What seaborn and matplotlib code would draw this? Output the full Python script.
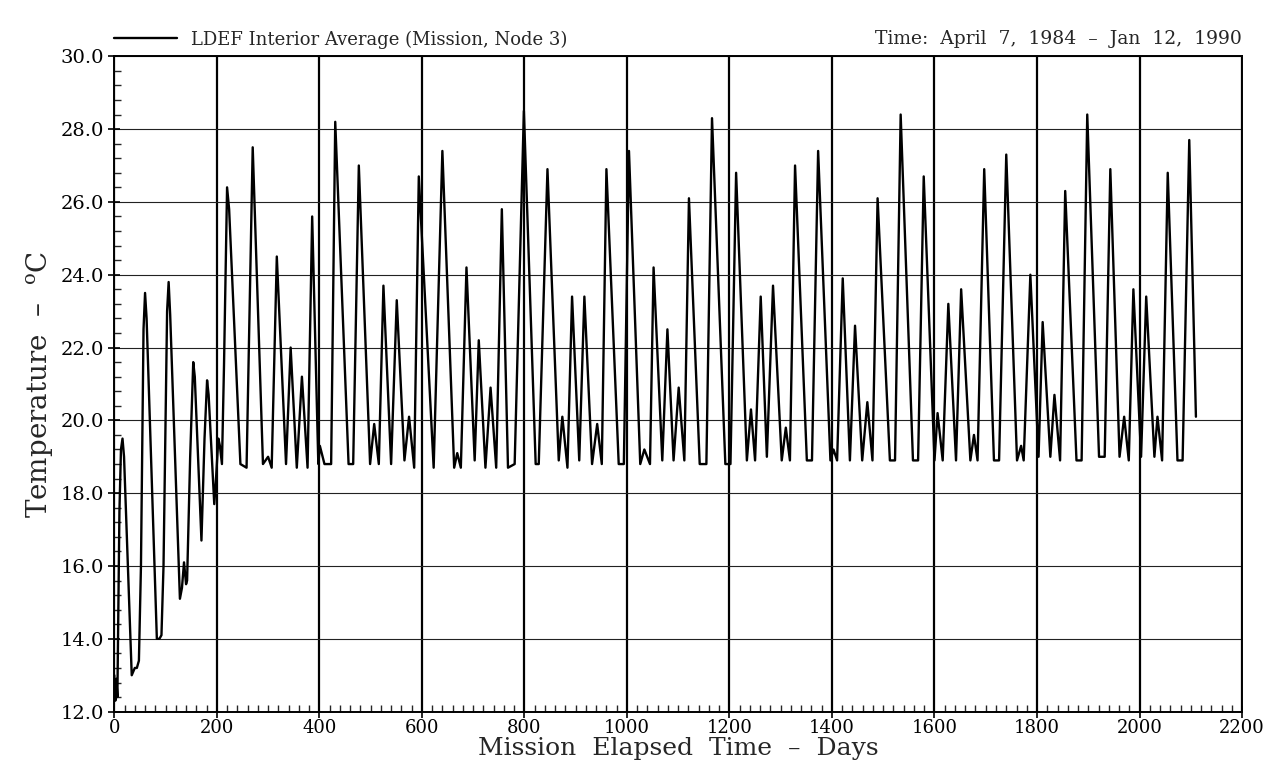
import numpy as np
import pandas as pd
import matplotlib
matplotlib.use("Agg")
import matplotlib.pyplot as plt
from matplotlib.ticker import MultipleLocator
import seaborn as sns

# Values (day, interior average temperature in C)
days = [0, 2, 4, 6, 10, 13, 16, 19, 34, 40, 44, 48, 52, 57, 60, 63, 83, 88, 92, 96,
        103, 106, 109, 128, 132, 136, 140, 142, 148, 154, 157, 170, 176, 181, 184, 195,
        198, 203, 206, 210, 214, 220, 224, 246, 258, 270, 290, 300, 307, 317, 335, 344,
        356, 366, 377, 386, 398, 401, 410, 423, 431, 457, 466, 477, 499, 507, 516, 525,
        540, 551, 566, 575, 585, 594, 623, 640, 663, 669, 676, 687, 703, 711, 724, 734,
        745, 756, 768, 781, 799, 822, 828, 845, 867, 874, 884, 893, 907, 917, 932, 942,
        951, 960, 984, 994, 1004, 1026, 1034, 1045, 1052, 1069, 1079, 1091, 1101, 1112,
        1121, 1142, 1155, 1166, 1192, 1202, 1213, 1234, 1242, 1250, 1261, 1273, 1285,
        1302, 1310, 1318, 1328, 1351, 1361, 1373, 1397, 1403, 1410, 1421, 1435, 1445,
        1459, 1469, 1479, 1489, 1513, 1523, 1534, 1558, 1568, 1579, 1600, 1606, 1616,
        1627, 1642, 1652, 1670, 1677, 1684, 1697, 1716, 1726, 1740, 1761, 1769, 1774,
        1787, 1803, 1811, 1826, 1834, 1845, 1855, 1877, 1887, 1898, 1921, 1932, 1943,
        1961, 1970, 1979, 1988, 2003, 2013, 2029, 2035, 2044, 2055, 2074, 2084, 2097,
        2110]
temps = [13.0, 12.3, 12.9, 12.4, 17.5, 19.2, 19.5, 19.0, 13.0, 13.2, 13.2, 13.4, 16.0,
         22.5, 23.5, 22.8, 14.0, 14.0, 14.1, 16.0, 23.0, 23.8, 22.9, 15.1, 15.4, 16.1,
         15.5, 15.6, 19.0, 21.6, 21.2, 16.7, 19.5, 21.1, 20.7, 17.7, 18.3, 19.5, 19.3,
         18.8, 21.5, 26.4, 25.8, 18.8, 18.7, 27.5, 18.8, 19.0, 18.7, 24.5, 18.8, 22.0,
         18.7, 21.2, 18.7, 25.6, 18.8, 19.3, 18.8, 18.8, 28.2, 18.8, 18.8, 27.0, 18.8,
         19.9, 18.8, 23.7, 18.8, 23.3, 18.9, 20.1, 18.7, 26.7, 18.7, 27.4, 18.7, 19.1,
         18.7, 24.2, 18.9, 22.2, 18.7, 20.9, 18.7, 25.8, 18.7, 18.8, 28.5, 18.8, 18.8,
         26.9, 18.9, 20.1, 18.7, 23.4, 18.9, 23.4, 18.8, 19.9, 18.8, 26.9, 18.8, 18.8,
         27.4, 18.8, 19.2, 18.8, 24.2, 18.9, 22.5, 18.9, 20.9, 18.9, 26.1, 18.8, 18.8,
         28.3, 18.8, 18.8, 26.8, 18.9, 20.3, 18.9, 23.4, 19.0, 23.7, 18.9, 19.8, 18.9,
         27.0, 18.9, 18.9, 27.4, 18.9, 19.2, 18.9, 23.9, 18.9, 22.6, 18.9, 20.5, 18.9,
         26.1, 18.9, 18.9, 28.4, 18.9, 18.9, 26.7, 18.9, 20.2, 18.9, 23.2, 18.9, 23.6,
         18.9, 19.6, 18.9, 26.9, 18.9, 18.9, 27.3, 18.9, 19.3, 18.9, 24.0, 19.0, 22.7,
         19.0, 20.7, 18.9, 26.3, 18.9, 18.9, 28.4, 19.0, 19.0, 26.9, 19.0, 20.1, 18.9,
         23.6, 19.0, 23.4, 19.0, 20.1, 18.9, 26.8, 18.9, 18.9, 27.7, 20.1]

df = pd.DataFrame({"day": days, "temp": temps})

sns.set_style("ticks")
plt.rcParams["font.family"] = ["DejaVu Serif"]
plt.rcParams["mathtext.fontset"] = "dejavuserif"

fig = plt.figure(figsize=(12.7, 7.71), dpi=100)
ax = fig.add_axes([0.090, 0.077, 0.888, 0.850])

sns.lineplot(data=df, x="day", y="temp", estimator=None, sort=False,
             color="black", linewidth=1.7, ax=ax,
             label="LDEF Interior Average (Mission, Node 3)")

ax.set_xlim(0, 2200)
ax.set_ylim(12, 30)
ax.xaxis.set_major_locator(MultipleLocator(200))
ax.xaxis.set_minor_locator(MultipleLocator(20))
ax.yaxis.set_major_locator(MultipleLocator(2))
ax.yaxis.set_minor_locator(MultipleLocator(0.4))
ax.yaxis.set_major_formatter(matplotlib.ticker.FormatStrFormatter("%.1f"))

# vertical grid is heavy in the scan, horizontal one thinner
ax.grid(axis="x", which="major", color="black", linewidth=1.6)
ax.grid(axis="y", which="major", color="#222222", linewidth=0.8)
ax.tick_params(which="major", direction="inout", length=8, width=1.2,
               colors="black")
ax.tick_params(axis="y", which="major", labelsize=14)
ax.tick_params(axis="x", which="major", labelsize=13, pad=1)
ax.tick_params(which="minor", direction="in", length=5, width=1.0)
for s in ax.spines.values():
    s.set_linewidth(1.4)
    s.set_color("black")

ax.set_xlabel("Mission  Elapsed  Time  –  Days", fontsize=18, labelpad=0)
ax.set_ylabel(r"Temperature  –  $^{\mathrm{o}}$C", fontsize=20, labelpad=4)

leg = ax.legend(loc="lower left", bbox_to_anchor=(-0.01, 0.995), frameon=False,
                fontsize=13, handlelength=3.5, borderaxespad=0.2)
ax.text(1.0, 1.012, "Time:  April  7,  1984  –  Jan  12,  1990", transform=ax.transAxes,
        ha="right", va="bottom", fontsize=13.5)

plt.savefig("out.png", dpi=100)
